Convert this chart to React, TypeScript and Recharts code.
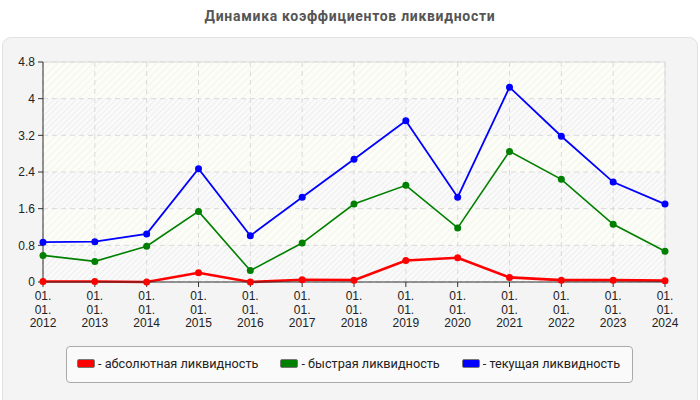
import React from "react";
import {
  LineChart,
  Line,
  XAxis,
  YAxis,
  CartesianGrid,
  ReferenceLine,
} from "recharts";

const years = ["2012", "2013", "2014", "2015", "2016", "2017", "2018", "2019", "2020", "2021", "2022", "2023", "2024"];
const absoluteLiquidity = [0.01, 0.01, 0.0, 0.2, 0.0, 0.05, 0.04, 0.47, 0.53, 0.1, 0.04, 0.04, 0.03];
const quickLiquidity = [0.58, 0.45, 0.78, 1.54, 0.25, 0.85, 1.7, 2.11, 1.18, 2.85, 2.24, 1.26, 0.67];
const currentLiquidity = [0.87, 0.88, 1.05, 2.47, 1.01, 1.85, 2.68, 3.52, 1.85, 4.25, 3.18, 2.18, 1.7];
const yTicks = [0, 0.8, 1.6, 2.4, 3.2, 4, 4.8];

const series = [
  { key: "absolute", label: "- абсолютная ликвидность", color: "#ff0000", width: 2.6 },
  { key: "quick", label: "- быстрая ликвидность", color: "#008000", width: 1.6 },
  { key: "current", label: "- текущая ликвидность", color: "#0000ff", width: 1.8 },
];

const data = years.map((y, i) => ({
  date: `01.01.${y}`,
  absolute: absoluteLiquidity[i],
  quick: quickLiquidity[i],
  current: currentLiquidity[i],
}));

function DateTick(props: any) {
  const { x, y, payload } = props;
  const year = String(payload.value).slice(6);
  return (
    <text x={x} y={y} textAnchor="middle" fill="#222" fontSize={12} fontFamily="'Liberation Sans', Arial, sans-serif">
      <tspan x={x} dy={11}>01.</tspan>
      <tspan x={x} dy={13.5}>01.</tspan>
      <tspan x={x} dy={13.5}>{year}</tspan>
    </text>
  );
}

export default function App() {
  return (
    <div style={{ position: "absolute", left: 0, top: 0, width: 700, height: 400, background: "#fff", overflow: "hidden" }}>
      <div
        style={{
          position: "absolute",
          left: 0,
          top: 8,
          width: 700,
          textAlign: "center",
          fontFamily: "Roboto, 'Liberation Sans', sans-serif",
          fontWeight: 700,
          fontSize: 14,
          letterSpacing: 0.7,
          color: "#555",
        }}
      >
        Динамика коэффициентов ликвидности
      </div>
      <div
        style={{
          position: "absolute",
          left: 2,
          top: 37,
          width: 694,
          height: 370,
          background: "#f4f4f4",
          border: "1px solid #e2e2e2",
          borderRadius: 9,
        }}
      />
      <div style={{ position: "absolute", left: 0, top: 0 }}>
        <LineChart width={700} height={400} data={data} margin={{ top: 62, right: 35, left: 3, bottom: 68 }}>
          <defs>
            <pattern id="paleHatch" width="5" height="5" patternUnits="userSpaceOnUse" patternTransform="rotate(45)">
              <rect width="5" height="5" fill="#fcfdf6" />
              <line x1="0" y1="0" x2="0" y2="5" stroke="#f1f2ec" strokeWidth="1.5" />
            </pattern>
            <pattern id="grayHatch" width="4" height="4" patternUnits="userSpaceOnUse" patternTransform="rotate(45)">
              <rect width="4" height="4" fill="#fafafa" />
              <line x1="0" y1="0" x2="0" y2="4" stroke="#ebebeb" strokeWidth="1.5" />
            </pattern>
          </defs>
          <CartesianGrid
            stroke="#dadada"
            strokeDasharray="5 4"
            horizontalFill={["url(#paleHatch)", "url(#grayHatch)"]}
            fillOpacity={1}
          />
          <ReferenceLine y={4.8} stroke="#dcdcdc" />
          <ReferenceLine x="01.01.2024" stroke="#dcdcdc" />
          <XAxis
            dataKey="date"
            height={50}
            interval={0}
            stroke="#333"
            tickSize={5}
            tick={<DateTick />}
          />
          <YAxis
            width={40}
            domain={[0, 4.8]}
            ticks={yTicks}
            interval={0}
            stroke="#333"
            tickSize={5}
            tickMargin={3}
            tick={{ fill: "#222", fontSize: 12, fontFamily: "'Liberation Sans', Arial, sans-serif" }}
          />
          {series.map((s) => (
            <Line
              key={s.key}
              type="linear"
              dataKey={s.key}
              stroke={s.color}
              strokeWidth={s.width}
              dot={{ r: 3.5, fill: s.color, stroke: s.color, strokeWidth: 0 }}
              activeDot={false}
              isAnimationActive={false}
            />
          ))}
        </LineChart>
      </div>
      <div
        style={{
          position: "absolute",
          left: 66,
          top: 346,
          width: 567,
          height: 37,
          boxSizing: "border-box",
          border: "1px solid #aaa",
          borderRadius: 4,
          background: "#fafafa",
          display: "flex",
          alignItems: "center",
          paddingLeft: 10,
          paddingBottom: 2,
          fontFamily: "Roboto, 'Liberation Sans', sans-serif",
          fontSize: 12.7,
          color: "#222",
        }}
      >
        {series.map((s, i) => (
          <div key={s.key} style={{ display: "flex", alignItems: "center", marginRight: i < series.length - 1 ? 22 : 0 }}>
            <span
              style={{
                display: "inline-block",
                width: 16,
                height: 7,
                background: s.color,
                border: "1px solid #777",
                borderRadius: 2,
                marginRight: 3,
              }}
            />
            <span>{s.label}</span>
          </div>
        ))}
      </div>
    </div>
  );
}
